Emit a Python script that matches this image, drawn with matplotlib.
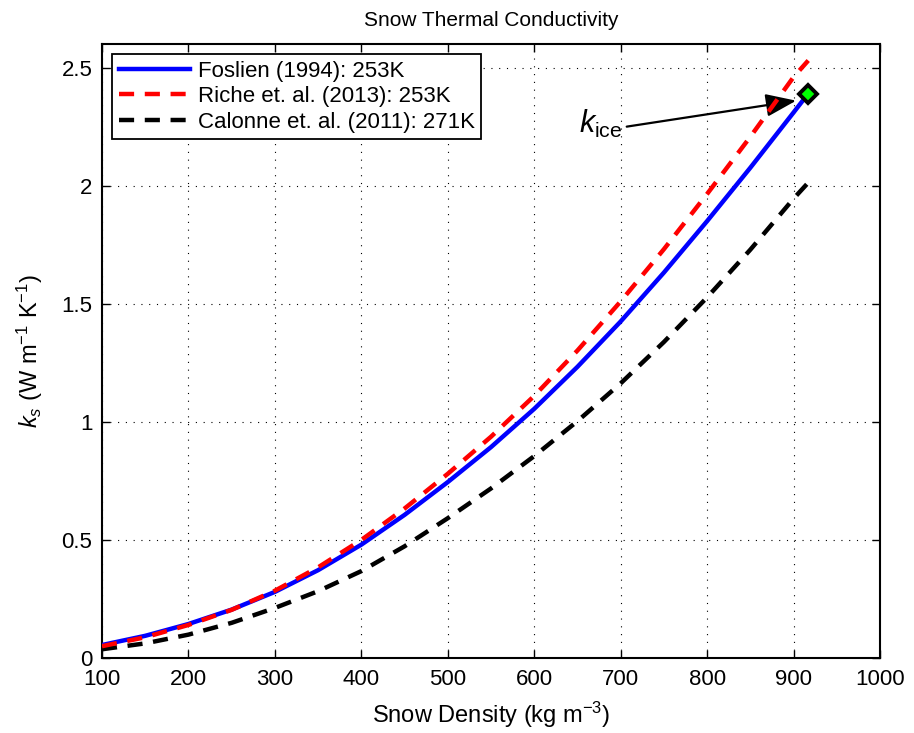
import matplotlib
matplotlib.use("Agg")
import matplotlib.pyplot as plt

density = [100, 150, 200, 250, 300, 350, 400, 450, 500, 550, 600, 650, 700, 750, 800, 850, 900, 917]
foslien = [0.055, 0.094, 0.144, 0.205, 0.280, 0.372, 0.480, 0.606, 0.745, 0.893, 1.055, 1.233, 1.425, 1.632, 1.850, 2.076, 2.310, 2.39]
riche = [0.050, 0.088, 0.140, 0.204, 0.285, 0.384, 0.500, 0.633, 0.780, 0.937, 1.110, 1.302, 1.510, 1.731, 1.965, 2.207, 2.460, 2.53]
calonne = [0.037, 0.062, 0.099, 0.149, 0.212, 0.283, 0.368, 0.473, 0.592, 0.718, 0.855, 1.003, 1.163, 1.338, 1.527, 1.729, 1.945, 2.013]
ice_density = 917
ice_k = 2.39

labels = ["Foslien (1994): 253K", "Riche et. al. (2013): 253K", "Calonne et. al. (2011): 271K"]
xticks = [100, 200, 300, 400, 500, 600, 700, 800, 900, 1000]
yticks = [0, 0.5, 1, 1.5, 2, 2.5]
yticklabels = ['0', '0.5', '1', '1.5', '2', '2.5']

plt.rcParams['font.family'] = ['Liberation Sans', 'DejaVu Sans']
plt.rcParams['mathtext.fontset'] = 'custom'
plt.rcParams['mathtext.rm'] = 'Liberation Sans'
plt.rcParams['mathtext.it'] = 'Liberation Sans:italic'

fig = plt.figure(figsize=(9.14, 7.33), dpi=100)
ax = fig.add_axes([0.1116, 0.1023, 0.8512, 0.8377])

lw = 3.2
dash = (0, (3.4, 2.4))
ax.plot(density, foslien, color='#0000ff', lw=lw, label=labels[0], zorder=3)
ax.plot(density, riche, color='#ff0000', lw=lw, ls=dash, label=labels[1], zorder=4)
ax.plot(density, calonne, color='black', lw=lw, ls=dash, label=labels[2], zorder=3)
ax.plot([ice_density], [ice_k], marker='D', ms=9.5, mfc='#00ff00', mec='black', mew=2.8, ls='none', zorder=5)

ax.annotate('', xy=(903, 2.36), xytext=(707, 2.25),
            arrowprops=dict(arrowstyle='-|>,head_length=0.85,head_width=0.32', color='black', lw=1.6,
                            shrinkA=0, shrinkB=0, mutation_scale=22))
ax.text(652, 2.222, r'$k_{\mathrm{ice}}$', fontsize=22, ha='left', va='baseline')

ax.set_xlim(100, 1000)
ax.set_ylim(0, 2.6)
ax.set_xticks(xticks)
ax.set_yticks(yticks)
ax.set_yticklabels(yticklabels)
ax.tick_params(direction='in', top=True, right=True, labelsize=16, length=6, width=1)
ax.tick_params(axis='x', pad=8)
ax.tick_params(axis='y', pad=7)
ax.grid(True, color='black', ls=(0, (1, 6)), lw=0.8)
for s in ax.spines.values():
    s.set_linewidth(1.5)

ax.set_title('Snow Thermal Conductivity', fontsize=15, pad=13)
ax.set_xlabel(r'Snow Density (kg m$^{-3}$)', fontsize=17, labelpad=7)
ax.set_ylabel(r'$k_s$ (W m$^{-1}$ K$^{-1}$)', fontsize=17, labelpad=12)

leg = ax.legend(loc='upper left', fontsize=16, handlelength=3.2, frameon=True, fancybox=False,
                edgecolor='black', borderaxespad=0.45, labelspacing=0.2, handletextpad=0.35,
                borderpad=0.3, framealpha=1)
leg.get_frame().set_linewidth(1.3)

fig.savefig('out.png', dpi=100)
